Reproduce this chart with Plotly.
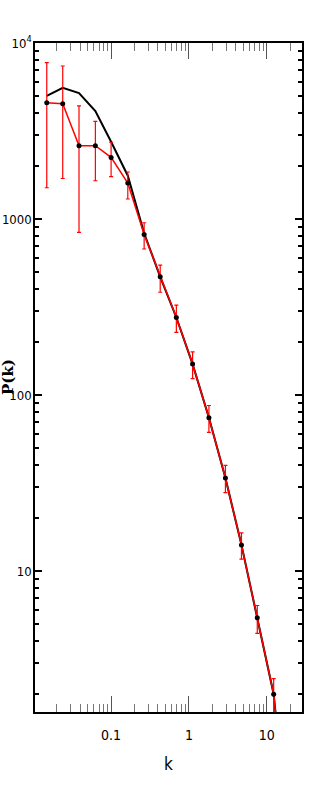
import plotly.graph_objects as go

# ---- data ----
k = [0.0149, 0.0239, 0.0387, 0.0628, 0.100, 0.164, 0.266, 0.428, 0.690,
     1.116, 1.81, 2.95, 4.74, 7.57, 12.3, 19.9]
pk = [4580, 4520, 2610, 2610, 2240, 1600, 818, 470, 276,
      150, 74.3, 33.8, 14.1, 5.43, 2.0, 0.24]
pk_hi = [7730, 7400, 4390, 3590, 2730, 1850, 953, 548, 324,
         176, 87.3, 39.9, 16.5, 6.38, 2.45, 0.29]
pk_lo = [1506, 1700, 840, 1650, 1740, 1300, 676, 384, 227,
         124, 61.4, 27.9, 11.7, 4.43, 1.5, 0.2]
model = [5010, 5570, 5200, 4110, 2750, 1763, 830, 470, 276,
         150, 74.3, 33.8, 14.1, 5.43, 2.0, 0.24]

y_tickvals = [10, 100, 1000, 10000]
y_ticktext = ["10", "100", "1000", "10<sup>4</sup>"]
x_tickvals = [0.1, 1, 10]
x_ticktext = ["0.1", "1", "10"]

err_plus = [h - v for h, v in zip(pk_hi, pk)]
err_minus = [v - l for v, l in zip(pk, pk_lo)]

FONT = "DejaVu Sans Condensed"

fig = go.Figure()
fig.add_trace(go.Scatter(
    x=k, y=model, mode="lines",
    line=dict(color="black", width=2), showlegend=False))
fig.add_trace(go.Scatter(
    x=k, y=pk, mode="lines+markers",
    line=dict(color="#ff0000", width=1.5),
    marker=dict(color="black", size=5),
    error_y=dict(type="data", symmetric=False, array=err_plus,
                 arrayminus=err_minus, color="#ff0000",
                 thickness=1.2, width=2),
    showlegend=False))

fig.update_layout(
    template="none",
    width=319, height=797,
    margin=dict(l=35, r=17, t=43, b=85, autoexpand=False),
    paper_bgcolor="white", plot_bgcolor="white",
    font=dict(family=FONT, size=14, color="black"),
)
fig.update_xaxes(
    type="log", range=[-1.978, 1.454], automargin=False,
    tickvals=x_tickvals, ticktext=x_ticktext,
    tickfont=dict(family=FONT, size=14, color="black"),
    ticklabelstandoff=9,
    ticks="inside", ticklen=16, tickwidth=1, tickcolor="#555",
    minor=dict(ticks="inside", ticklen=8, tickwidth=1, tickcolor="#777",
               dtick="D1", showgrid=False),
    showline=True, linecolor="black", linewidth=2, mirror="allticks",
    showgrid=False, zeroline=False,
)
fig.update_yaxes(
    type="log", range=[0.2, 4.0], automargin=False,
    tickvals=y_tickvals, ticktext=y_ticktext,
    tickfont=dict(family=FONT, size=13, color="black"),
    ticklabelstandoff=-1,
    ticks="inside", ticklen=7, tickwidth=2, tickcolor="black",
    minor=dict(ticks="inside", ticklen=4, tickwidth=2, tickcolor="black",
               dtick="D1", showgrid=False),
    showline=True, linecolor="black", linewidth=1.5, mirror="allticks",
    showgrid=False, zeroline=False,
)
fig.add_annotation(
    text="<b>P(k)</b>", xref="paper", yref="paper",
    x=(8 - 35) / 267, y=(712 - 377) / 669, xanchor="center", yanchor="middle",
    textangle=-90, showarrow=False,
    font=dict(family="DejaVu Serif", size=15, color="black"))
fig.add_annotation(
    text="k", xref="paper", yref="paper",
    x=(168 - 35) / 267, y=-(764 - 712) / 669, xanchor="center", yanchor="middle",
    showarrow=False,
    font=dict(family=FONT, size=17, color="black"))

fig.write_html(
    "out.html",
    config={"displayModeBar": False},
    post_script="document.body.style.margin='0';document.body.style.overflow='hidden';",
)
